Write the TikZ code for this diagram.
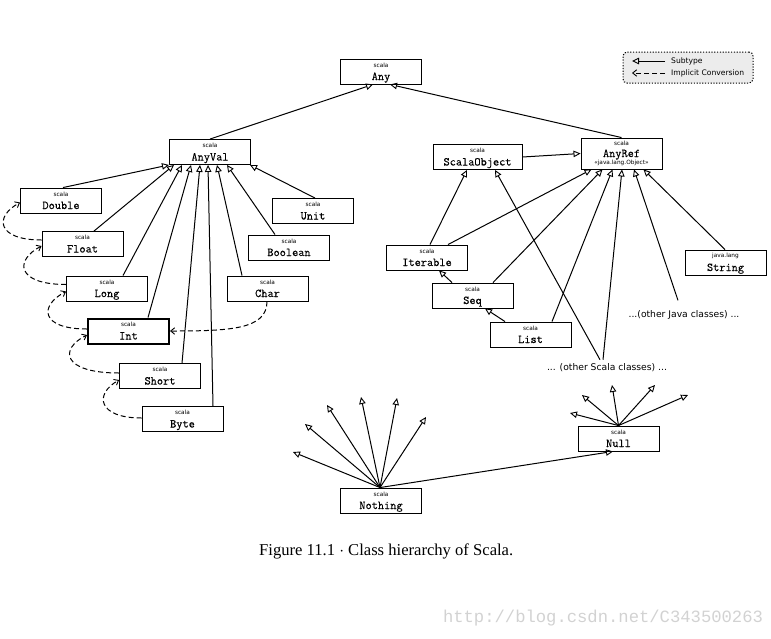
\documentclass[tikz,border=0pt]{standalone}
\usepackage{fontspec}
\usetikzlibrary{arrows.meta}
\newfontfamily\pkgfont{DejaVu Sans}
\newfontfamily\capfont{Liberation Serif}
\newfontfamily\wmfont{Liberation Mono}
\newfontfamily\clsfont{Latin Modern Mono}[FakeBold=0.3]
\begin{document}
\begin{tikzpicture}[x=1pt,y=-1pt,
  every node/.style={inner sep=0pt},
  cls/.style={draw, line width=0.9pt, minimum width=81pt, minimum height=25pt,
    text height=19pt, text depth=2pt, font=\fontsize{12}{12}\selectfont\clsfont},
  pk/.style={font=\fontsize{5.8}{6}\selectfont\pkgfont, inner sep=0pt},
  sub/.style={line width=1pt, -{Triangle[open, length=7pt, width=6.5pt, line width=0.9pt]}},
  impl/.style={line width=1pt, dash pattern=on 5pt off 3pt, -{Straight Barb[length=4pt, width=6.5pt, line width=0.9pt]}},
  oth/.style={font=\fontsize{9.2}{10}\selectfont\pkgfont},
  legtxt/.style={font=\fontsize{7.6}{8}\selectfont\pkgfont, anchor=west},
  legbox/.style={draw, rounded corners=4pt, line width=1pt, dash pattern=on 1.2pt off 1.6pt, fill=gray!15},
]
\useasboundingbox (0,0) rectangle (771,638);

% legend
\node[legbox, minimum width=130pt, minimum height=31pt] (leg) at (688,67.5) {};
\coordinate (s1) at (665,61); \coordinate (s0) at (632,61);
\coordinate (i1) at (665,73); \coordinate (i0) at (632,73);
\draw[sub] (s1) -- (s0);
\draw[impl] (i1) -- (i0);
\node[legtxt] (lsub) at (671,61) {Subtype};
\node[legtxt] (limp) at (671,73) {Implicit Conversion};

% classes
\node[cls, label={[pk,yshift=6.5pt]center:scala}] (any) at (381,71.5) {Any};
\node[cls, label={[pk,yshift=6.5pt]center:scala}] (anyval) at (210,152) {AnyVal};
\node[cls, label={[pk,yshift=6.5pt]center:scala}] (double) at (61,200.5) {Double};
\node[cls, label={[pk,yshift=6.5pt]center:scala}] (float) at (82.5,244) {Float};
\node[cls, label={[pk,yshift=6.5pt]center:scala}] (long) at (107,288.5) {Long};
\node[cls, line width=2pt, label={[pk,yshift=6.5pt]center:scala}] (int) at (128.5,331) {Int};
\node[cls, label={[pk,yshift=6.5pt]center:scala}] (short) at (160,376) {Short};
\node[cls, label={[pk,yshift=6.5pt]center:scala}] (byte) at (182.5,419) {Byte};
\node[cls, label={[pk,yshift=6.5pt]center:scala}] (char) at (267.5,288.5) {Char};
\node[cls, label={[pk,yshift=6.5pt]center:scala}] (boolean) at (289,247.5) {Boolean};
\node[cls, label={[pk,yshift=6.5pt]center:scala}] (unit) at (313,211) {Unit};

\node[cls, minimum width=89pt, label={[pk,yshift=6.5pt]center:scala}] (scalaobject) at (477.5,157) {ScalaObject};
\node[cls, minimum height=31pt, text height=9pt, text depth=2pt,
  label={[pk,yshift=10.5pt]center:scala},
  label={[pk,yshift=-9.5pt]center:«java.lang.Object»}] (anyref) at (621.5,153.5) {AnyRef};
\node[cls, label={[pk,yshift=6.5pt]center:scala}] (iterable) at (427,257.5) {Iterable};
\node[cls, label={[pk,yshift=6.5pt]center:scala}] (seq) at (472.5,295.5) {Seq};
\node[cls, label={[pk,yshift=6.5pt]center:scala}] (list) at (530.5,334.5) {List};
\node[cls, label={[pk,yshift=6.5pt]center:java.lang}] (string) at (725.5,262.5) {String};
\node[oth] (ojc) at (684,315) {...(other Java classes) ...};
\node[oth] (osc) at (607,368) {... (other Scala classes) ...};

\node[cls, label={[pk,yshift=6.5pt]center:scala}] (nothing) at (381,500.5) {Nothing};
\node[cls, label={[pk,yshift=6.5pt]center:scala}] (null) at (618.5,438.5) {Null};

% top
\draw[sub] (anyval.north) -- ([xshift=-8pt]any.south);
\draw[sub] (anyref.north) -- ([xshift=9pt]any.south);
\draw[sub] (scalaobject.east) -- (anyref.west);

% value classes
\draw[sub] ([xshift=2pt]double.north) -- ([xshift=-41pt]anyval.south);
\draw[sub] ([xshift=11.5pt]float.north) -- ([xshift=-36pt]anyval.south);
\draw[sub] ([xshift=16pt]long.north) -- ([xshift=-28pt]anyval.south);
\draw[sub] ([xshift=19.5pt]int.north) -- ([xshift=-19pt]anyval.south);
\draw[sub] ([xshift=22pt]short.north) -- ([xshift=-10pt]anyval.south);
\draw[sub] ([xshift=30.5pt]byte.north) -- ([xshift=-2pt]anyval.south);
\draw[sub] ([xshift=-25.5pt]char.north) -- ([xshift=7pt]anyval.south);
\draw[sub] ([xshift=-14pt]boolean.north) -- ([xshift=17pt]anyval.south);
\draw[sub] ([xshift=2pt]unit.north) -- ([xshift=40pt]anyval.south);

% implicit conversions
\draw[impl] ([yshift=4pt]float.west) .. controls +(-45,0) and +(-26,14) .. ([yshift=-2pt]double.west);
\draw[impl] ([yshift=4pt]long.west) .. controls +(-50,0) and +(-27,14) .. ([yshift=-2pt]float.west);
\draw[impl] ([yshift=2pt]int.west) .. controls +(-47,0) and +(-27,14) .. ([yshift=-3pt]long.west);
\draw[impl] ([yshift=3pt]short.west) .. controls +(-57,0) and +(-28,14) .. ([yshift=-4pt]int.west);
\draw[impl] ([yshift=1pt]byte.west) .. controls +(-44,0) and +(-25,14) .. ([yshift=-4pt]short.west);
\draw[impl] ([xshift=-0.5pt]char.south) .. controls +(0,28) and +(60,0) .. (int.east);

% reference classes
\draw[sub] ([xshift=3pt]iterable.north) -- ([xshift=-10.5pt]scalaobject.south);
\draw[sub] ([xshift=21pt]iterable.north) -- ([xshift=-30pt]anyref.south);
\draw[sub] ([xshift=-20.5pt]seq.north) -- ([xshift=12pt]iterable.south);
\draw[sub] ([xshift=20.5pt]seq.north) -- ([xshift=-19pt]anyref.south);
\draw[sub] ([xshift=-25.5pt]list.north) -- ([xshift=12.5pt]seq.south);
\draw[sub] ([xshift=21.5pt]list.north) -- ([xshift=-9pt]anyref.south);
\draw[sub] ([xshift=-7pt,yshift=4pt]osc.north) -- ([xshift=17.5pt]scalaobject.south);
\draw[sub] ([xshift=-4pt,yshift=4pt]osc.north) -- ([xshift=0.5pt]anyref.south);
\draw[sub] ([xshift=-6pt,yshift=10pt]ojc.north) -- ([xshift=12.5pt]anyref.south);
\draw[sub] ([xshift=-0.5pt]string.north) -- ([xshift=22pt]anyref.south);

% bottom types
\coordinate (n1) at (293,452); \coordinate (n2) at (305,424); \coordinate (n3) at (327,405);
\coordinate (n4) at (361,397); \coordinate (n5) at (397,398); \coordinate (n6) at (426,417);
\foreach \t in {n1,n2,n3,n4,n5,n6} \draw[sub] ([xshift=-1pt]nothing.north) -- (\t);
\draw[sub] ([xshift=-1pt]nothing.north) -- ([xshift=-5.5pt]null.south);
\coordinate (u1) at (570,413); \coordinate (u2) at (582,395); \coordinate (u3) at (612,385);
\coordinate (u4) at (655,385); \coordinate (u5) at (688,395);
\foreach \t in {u1,u2,u3,u4,u5} \draw[sub] (null.north) -- (\t);

% caption and watermark
\node[anchor=base west, font=\fontsize{16.6}{18}\selectfont\capfont] (cap) at (259,555) {Figure 11.1 $\cdot$ Class hierarchy of Scala.};
\node[font=\fontsize{17.2}{18}\selectfont\wmfont, text=gray!35] (wm) at (603,618) {http://blog.csdn.net/C343500263};
\end{tikzpicture}
\end{document}
